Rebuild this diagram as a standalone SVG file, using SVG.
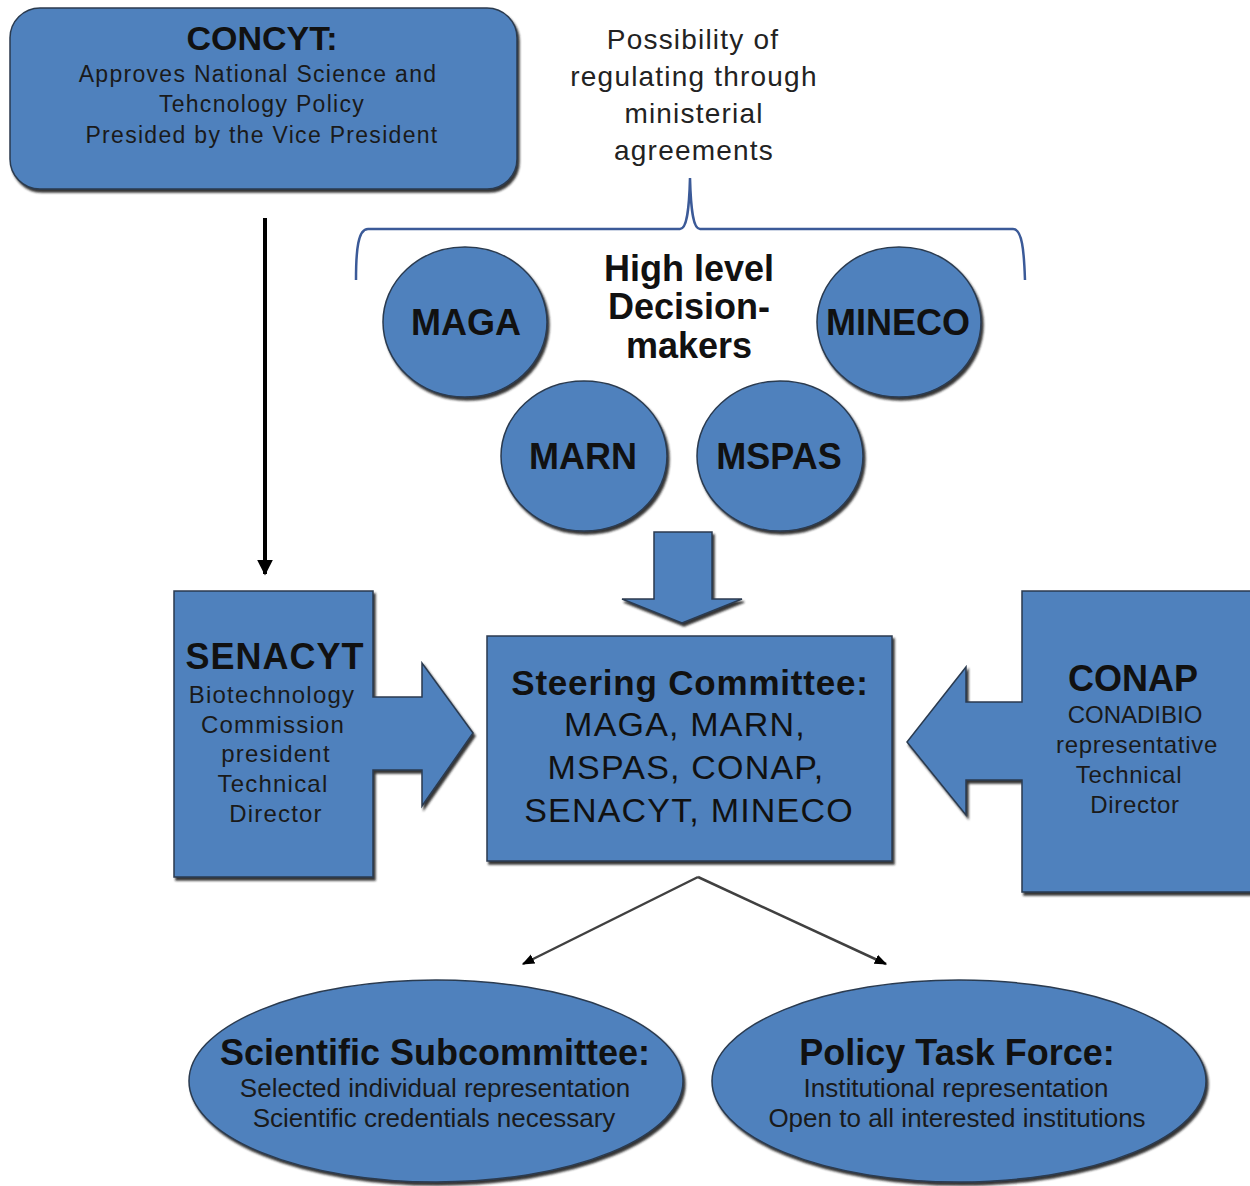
<svg xmlns="http://www.w3.org/2000/svg" width="1250" height="1186" viewBox="0 0 1250 1186">
<style>
.shape{fill:#4f81bd;stroke:#2b3b50;stroke-width:1.5;filter:url(#sh)}
text{font-family:"Liberation Sans",Arial,sans-serif;fill:#111;text-anchor:middle}
.b{font-weight:bold}
.body{fill:#1a1a1a}
.note{fill:#222;font-size:28px;letter-spacing:1.2px}
</style>
<defs>
<filter id="sh" x="-5%" y="-5%" width="115%" height="115%">
<feDropShadow dx="2" dy="3" stdDeviation="1" flood-color="#1a1a1a" flood-opacity="0.9"/>
</filter>
<marker id="ah" viewBox="0 0 10 10" refX="9" refY="5" markerWidth="4" markerHeight="4" orient="auto">
<path d="M0,0 L10,5 L0,10 Z" fill="#000"/>
</marker>
<marker id="ah2" viewBox="0 0 10 10" refX="9" refY="5" markerWidth="5" markerHeight="5" orient="auto">
<path d="M0,1 L10,5 L0,9 Z" fill="#000"/>
</marker>
</defs>

<g id="connectors">
<line x1="265" y1="218" x2="265" y2="574" stroke="#000" stroke-width="4" marker-end="url(#ah)"/>
<line x1="698" y1="877" x2="523" y2="964" stroke="#404040" stroke-width="2.5" marker-end="url(#ah2)"/>
<line x1="698" y1="877" x2="886" y2="964" stroke="#404040" stroke-width="2.5" marker-end="url(#ah2)"/>
<path id="brace" d="M356,280 C356,250 358,229 368,229 L680,229 C686,229 689,215 690,178 C691,215 694,229 700,229 L1013,229 C1022,229 1024,250 1025,280" fill="none" stroke="#3b5a98" stroke-width="2.5"/>
<path id="down-arrow" class="shape" d="M654,532 L712,532 L712,599 L742,599 L682,623 L622,599 L654,599 Z"/>
</g>

<g id="concyt">
<rect class="shape" x="10" y="8" width="507" height="181" rx="30"/>
<text class="b" x="262" y="50" font-size="34">CONCYT:</text>
<text class="body" x="258" y="82" font-size="23" letter-spacing="1.3">Approves National Science and</text>
<text class="body" x="262" y="112" font-size="23" letter-spacing="1.3">Tehcnology Policy</text>
<text class="body" x="262" y="143" font-size="23" letter-spacing="1.3">Presided by the Vice President</text>
</g>

<g id="note">
<text class="note" x="693" y="49">Possibility of</text>
<text class="note" x="694" y="86">regulating through</text>
<text class="note" x="694" y="123">ministerial</text>
<text class="note" x="694" y="160">agreements</text>
</g>

<g id="high-level">
<text class="b" x="689" y="281" font-size="36">High level</text>
<text class="b" x="689" y="319" font-size="36">Decision-</text>
<text class="b" x="689" y="358" font-size="36">makers</text>
</g>

<g id="maga">
<ellipse class="shape" cx="465" cy="322" rx="82" ry="75"/>
<text class="b" x="466" y="335" font-size="36">MAGA</text>
</g>
<g id="mineco">
<ellipse class="shape" cx="899" cy="322" rx="82" ry="75"/>
<text class="b" x="898" y="335" font-size="36">MINECO</text>
</g>
<g id="marn">
<ellipse class="shape" cx="584" cy="456" rx="83" ry="75"/>
<text class="b" x="583" y="469" font-size="36">MARN</text>
</g>
<g id="mspas">
<ellipse class="shape" cx="780" cy="456" rx="83" ry="75"/>
<text class="b" x="779" y="469" font-size="36">MSPAS</text>
</g>

<g id="steering">
<rect class="shape" x="487" y="636" width="405" height="225"/>
<text class="b" x="690" y="695" font-size="35" letter-spacing="0.8">Steering Committee:</text>
<text x="685" y="736" font-size="34" letter-spacing="1.2">MAGA, MARN,</text>
<text x="686" y="779" font-size="34" letter-spacing="1.2">MSPAS, CONAP,</text>
<text x="689" y="822" font-size="34" letter-spacing="1.2">SENACYT, MINECO</text>
</g>

<g id="senacyt">
<path class="shape" d="M174,591 L373,591 L373,697 L422,697 L422,663 L473,733 L422,806 L422,770 L373,770 L373,877 L174,877 Z"/>
<text class="b" x="275" y="669" font-size="36" letter-spacing="1">SENACYT</text>
<text class="body" x="272" y="703" font-size="24" letter-spacing="1.2">Biotechnology</text>
<text class="body" x="273" y="733" font-size="24" letter-spacing="1.2">Commission</text>
<text class="body" x="276" y="762" font-size="24" letter-spacing="1.2">president</text>
<text class="body" x="273" y="792" font-size="24" letter-spacing="1.2">Technical</text>
<text class="body" x="276" y="822" font-size="24" letter-spacing="1.2">Director</text>
</g>

<g id="conap">
<path class="shape" d="M1022,591 L1253,591 L1253,892 L1022,892 L1022,780 L966,780 L966,815 L907,742 L966,667 L966,702 L1022,702 Z"/>
<text class="b" x="1133" y="691" font-size="36">CONAP</text>
<text class="body" x="1135" y="723" font-size="24">CONADIBIO</text>
<text class="body" x="1137" y="753" font-size="24" letter-spacing="0.7">representative</text>
<text class="body" x="1129" y="783" font-size="24" letter-spacing="0.7">Technical</text>
<text class="body" x="1135" y="813" font-size="24" letter-spacing="0.7">Director</text>
</g>

<g id="scientific">
<ellipse class="shape" cx="436" cy="1081" rx="247" ry="101"/>
<text class="b" x="435" y="1065" font-size="36">Scientific Subcommittee:</text>
<text class="body" x="435" y="1097" font-size="26">Selected individual representation</text>
<text class="body" x="434" y="1127" font-size="26">Scientific credentials necessary</text>
</g>

<g id="policy">
<ellipse class="shape" cx="959" cy="1081" rx="247" ry="101"/>
<text class="b" x="957" y="1065" font-size="36">Policy Task Force:</text>
<text class="body" x="956" y="1097" font-size="26">Institutional representation</text>
<text class="body" x="957" y="1127" font-size="26">Open to all interested institutions</text>
</g>
</svg>
